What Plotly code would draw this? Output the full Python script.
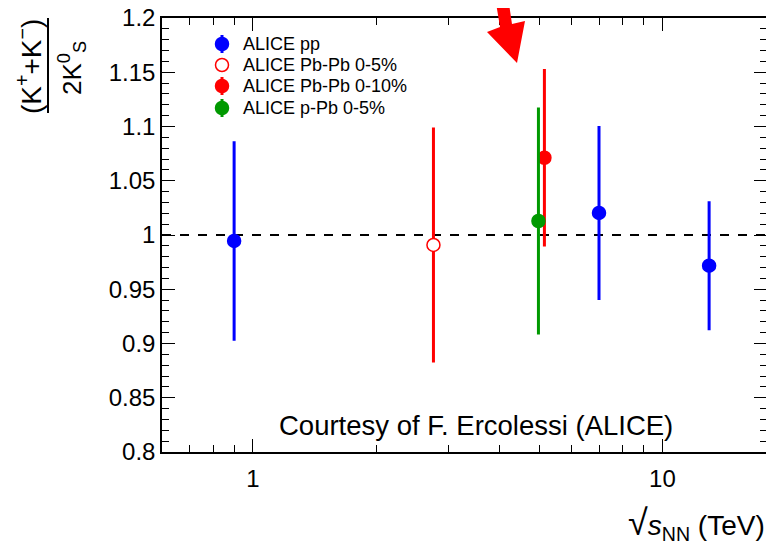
import math
import plotly.graph_objects as go

# ---- data ----
pp_x = [0.9, 7.0, 13.0]
pp_y = [0.9945, 1.0203, 0.9717]
pp_err = [0.0905, 0.0788, 0.058]

pbpb05_x = [2.76]
pbpb05_y = [0.9908]
pbpb05_err = [0.107]

pbpb010_x = [5.15]
pbpb010_y = [1.0712]
pbpb010_err = [0.0805]

ppb_x = [4.98]
ppb_y = [1.0129]
ppb_err = [0.1032]

legend_names = ["ALICE pp", "ALICE Pb-Pb 0-5%", "ALICE Pb-Pb 0-10%", "ALICE p-Pb 0-5%"]

ref_level = 1.0
x_range = [0.6, 18.0]
y_range = [0.8, 1.2]
x_major = [1, 10]
x_minor = [0.6, 0.7, 0.8, 0.9, 2, 3, 4, 5, 6, 7, 8, 9]
y_major = [0.8, 0.85, 0.9, 0.95, 1.0, 1.05, 1.1, 1.15, 1.2]
y_labels = ["0.8", "0.85", "0.9", "0.95", "1", "1.05", "1.1", "1.15", "1.2"]

FONT = "Liberation Sans, Arial, Helvetica, sans-serif"
BLUE = "#0000ff"
RED = "#ff0000"
GREEN = "#009900"

fig = go.Figure()

def add(x, y, err, name, color, fill, size=13):
    fig.add_trace(go.Scatter(
        x=x, y=y, mode="markers", name=name, showlegend=False,
        marker=dict(symbol="circle", size=size, color=fill,
                    line=dict(color=color, width=1.5)),
        error_y=dict(type="data", array=err, symmetric=True,
                     color=color, thickness=3, width=1.5),
    ))

add(pp_x, pp_y, pp_err, legend_names[0], BLUE, BLUE)
add(pbpb05_x, pbpb05_y, pbpb05_err, legend_names[1], RED, "white")
add(pbpb010_x, pbpb010_y, pbpb010_err, legend_names[2], RED, RED)
add(ppb_x, ppb_y, ppb_err, legend_names[3], GREEN, GREEN)

# page body has an 8px margin: screen coordinates = figure coordinates + 8
OFF = 8
W, H = 774 - OFF, 549 - OFF
SL, SR, ST, SB = 162, 767, 18, 452          # plot-area edges in screen pixels
L, T = SL - OFF, ST - OFF
R = W - (SR - OFF)
B = H - (SB - OFF)
PW, PH = SR - SL, SB - ST

def px(sx):
    return (sx - SL) / PW

def py(sy):
    return (SB - sy) / PH

shapes = [
    dict(type="line", xref="paper", yref="y", x0=0, x1=1, y0=ref_level, y1=ref_level,
         line=dict(color="black", width=2, dash="dash"), layer="below"),
    # fraction bar of y title
    dict(type="line", xref="paper", yref="paper",
         x0=px(48), x1=px(48), y0=py(18), y1=py(113),
         line=dict(color="black", width=2)),
]
# red arrow (decoration)
arrow_pts = [(495, -3), (508, -3), (512, 24), (525, 21), (517, 63), (487, 32), (500, 27)]
path = "M " + " L ".join(f"{px(a):.4f},{py(b):.4f}" for a, b in arrow_pts) + " Z"
shapes.append(dict(type="path", xref="paper", yref="paper", path=path,
                   fillcolor=RED, line=dict(color=RED, width=0)))

annotations = [
    dict(text="(K<sup>+</sup>+K<sup>\u2212</sup>)", textangle=-90, showarrow=False,
         xref="paper", yref="paper", x=px(29), y=py(67), xanchor="center", yanchor="middle",
         font=dict(family=FONT, size=28, color="black")),
    dict(text="2K<sup>0</sup><sub>S</sub>", textangle=-90, showarrow=False,
         xref="paper", yref="paper", x=px(72), y=py(68), xanchor="center", yanchor="middle",
         font=dict(family=FONT, size=26, color="black")),
    dict(text="<span style=\"font-size:36px\">\u221A</span><i>s</i><sub>NN</sub> (TeV)",
         showarrow=False,
         xref="paper", yref="paper", x=px(767), y=py(523), xanchor="right", yanchor="middle",
         font=dict(family=FONT, size=28, color="black")),
    dict(text="Courtesy of F. Ercolessi (ALICE)", showarrow=False,
         xref="paper", yref="paper", x=px(476), y=py(425), xanchor="center", yanchor="middle",
         font=dict(family=FONT, size=27.5, color="black")),
]

# manual ROOT-style legend
leg_rows = [44, 65, 86, 108]
leg_styles = [(BLUE, BLUE), (RED, "white"), (RED, RED), (GREEN, GREEN)]
for name, sy, (col, fill) in zip(legend_names, leg_rows, leg_styles):
    if fill != "white":
        shapes.append(dict(type="line", xref="paper", yref="paper",
                           x0=px(222), x1=px(222), y0=py(sy - 9), y1=py(sy + 9),
                           line=dict(color=col, width=3)))
    shapes.append(dict(type="circle", xref="paper", yref="paper",
                       xsizemode="pixel", ysizemode="pixel",
                       xanchor=px(222), yanchor=py(sy),
                       x0=-6.5, x1=6.5, y0=-6.5, y1=6.5,
                       fillcolor=fill, line=dict(color=col, width=1.5)))
    annotations.append(dict(text=name, showarrow=False, xref="paper", yref="paper",
                            x=px(241), y=py(sy), xanchor="left", yanchor="middle",
                            font=dict(family=FONT, size=18, color="black")))

fig.update_layout(
    width=W, height=H,
    margin=dict(l=L, r=R, t=T, b=B, pad=0, autoexpand=False),
    paper_bgcolor="white", plot_bgcolor="white",
    font=dict(family=FONT, size=24, color="black"),
    showlegend=False,
    shapes=shapes,
    annotations=annotations,
    xaxis=dict(type="log", range=[math.log10(x_range[0]), math.log10(x_range[1])],
               tickmode="array", tickvals=x_major, ticktext=[str(v) for v in x_major],
               ticks="inside", ticklen=13, tickwidth=1, tickcolor="black",
               showline=True, linecolor="black", linewidth=1.5, mirror="ticks",
               showgrid=False, zeroline=False, ticklabelstandoff=4,
               ticklabeloverflow="allow", automargin=False,
               minor=dict(tickmode="array", tickvals=x_minor, ticks="inside", ticklen=7,
                          tickcolor="black", tickwidth=1, showgrid=False),
               tickfont=dict(size=24)),
    yaxis=dict(range=y_range, tickmode="array", tickvals=y_major, ticktext=y_labels,
               ticks="inside", ticklen=13, tickwidth=1, tickcolor="black",
               showline=True, linecolor="black", linewidth=1.5, mirror="ticks",
               showgrid=False, zeroline=False, ticklabeloverflow="allow", automargin=False,
               minor=dict(tickmode="linear", tick0=0.8, dtick=0.01, ticks="inside",
                          ticklen=7, tickcolor="black", tickwidth=1, showgrid=False),
               tickfont=dict(size=24)),
)

fig.write_html("out.html")
